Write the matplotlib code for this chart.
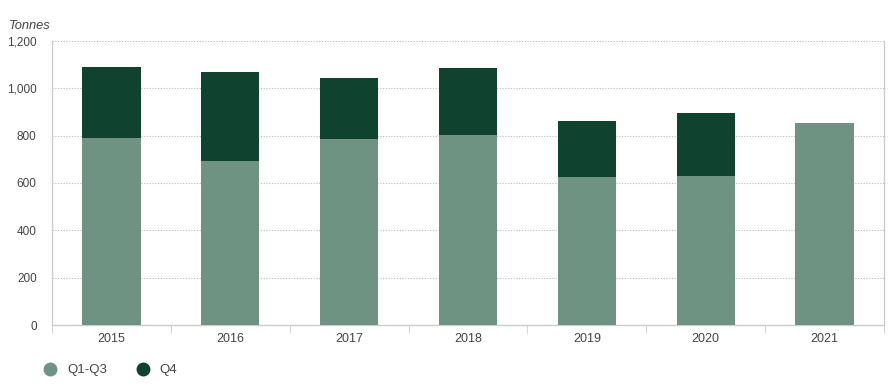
import matplotlib.pyplot as plt
import numpy as np
from matplotlib.ticker import FuncFormatter, FixedLocator
from matplotlib.lines import Line2D

years = ['2015', '2016', '2017', '2018', '2019', '2020', '2021']
q1_q3 = [790, 693, 786, 803, 625, 630, 853]
q4 = [300, 376, 258, 283, 237, 266, 0]

c_q13 = '#6f9383'
c_q4 = '#10432f'
txt = '#444444'

plt.rcParams['font.family'] = ['Liberation Sans', 'DejaVu Sans']

fig = plt.figure(figsize=(8.94, 3.86), dpi=100)
ax = fig.add_axes([52/894, 1-325/386, 832/894, 284/386])

x = np.arange(len(years))
ax.bar(x, q1_q3, width=0.49, color=c_q13, zorder=3)
ax.bar(x, q4, width=0.49, bottom=q1_q3, color=c_q4, zorder=3)

ax.set_xlim(-0.5, len(years) - 0.5)
ax.set_ylim(0, 1200)
ax.set_yticks(range(0, 1201, 200))
ax.yaxis.set_major_formatter(FuncFormatter(lambda v, p: f"{int(v):,}"))
ax.set_xticks(x)
ax.set_xticklabels(years)
ax.xaxis.set_minor_locator(FixedLocator(np.arange(-0.5, len(years), 1.0)))
ax.tick_params(axis='x', which='major', length=0, pad=6, labelsize=9, colors=txt)
ax.tick_params(axis='x', which='minor', length=6, color='#cccccc')
ax.tick_params(axis='y', length=0, pad=11, labelsize=8.5, colors=txt)

ax.grid(axis='y', linestyle=(0, (1, 1.5)), color='#bbbbbb', linewidth=0.8, zorder=0)
ax.spines['top'].set_visible(False)
for s in ['left', 'bottom', 'right']:
    ax.spines[s].set_color('#cccccc')
    ax.spines[s].set_linewidth(1.0)

fig.text(9/894, 1-26/386, 'Tonnes', fontsize=9.3, style='italic', color=txt, va='center')

handles = [Line2D([], [], marker='o', linestyle='', markersize=9, color=c_q13),
           Line2D([], [], marker='o', linestyle='', markersize=9, color=c_q4)]
fig.legend(handles, ['Q1-Q3', 'Q4'], loc='center left', bbox_to_anchor=(25/894, 1-370/386),
           ncol=2, frameon=False, fontsize=9.5, handletextpad=0.3, columnspacing=1.7,
           labelcolor=txt)

fig.savefig('out.png', dpi=100)
